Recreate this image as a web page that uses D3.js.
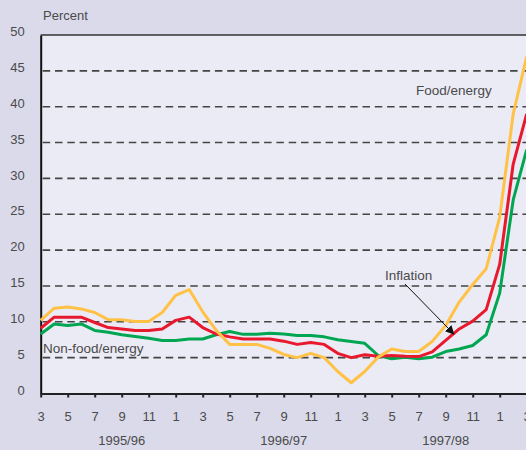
<!DOCTYPE html>
<html>

<head>
  <meta charset="utf-8">
  <title>inflation-chart</title>
  <style>
    * {
      padding: 0;
      margin: 0;
    }

    html,
    body {
      width: 526px;
      height: 450px;
      overflow: hidden;
      background: #dadaea;
    }

    text {
      font-family: "Liberation Sans", Arial, sans-serif;
      fill: #4a4a4a;
    }
  </style>
</head>

<body>
  <svg id="svg"></svg>
  <script src="https://cdnjs.cloudflare.com/ajax/libs/d3/7.8.5/d3.min.js"></script>
  <script>
    // monthly observations, March 1995 .. March 1998
    const monthNumbers = [3, 4, 5, 6, 7, 8, 9, 10, 11, 12, 1, 2,
      3, 4, 5, 6, 7, 8, 9, 10, 11, 12, 1, 2,
      3, 4, 5, 6, 7, 8, 9, 10, 11, 12, 1, 2, 3];
    const foodEnergy = [10.2, 11.9, 12.05, 11.8, 11.3, 10.3, 10.3, 10.05, 10.05, 11.3, 13.7, 14.5,
      11.4, 8.8, 6.85, 6.85, 6.85, 6.3, 5.45, 5.0, 5.6, 5.0, 3.07, 1.5,
      3.07, 5.07, 6.2, 5.85, 5.85, 7.26, 9.5, 12.75, 15.2, 17.4, 24.6, 39, 47];
    const inflation = [9.1, 10.65, 10.65, 10.65, 9.9, 9.2, 9.0, 8.8, 8.8, 9.0, 10.2, 10.65,
      9.2, 8.3, 7.9, 7.6, 7.6, 7.6, 7.3, 6.85, 7.1, 6.85, 5.6, 5.0,
      5.4, 5.2, 5.3, 5.2, 5.15, 5.8, 7.4, 9.0, 10.1, 11.7, 18, 32, 39];
    const nonFoodEnergy = [8.3, 9.7, 9.5, 9.7, 8.8, 8.55, 8.2, 7.95, 7.7, 7.4, 7.4, 7.6,
      7.6, 8.2, 8.65, 8.25, 8.25, 8.4, 8.3, 8.1, 8.1, 7.9, 7.5, 7.26,
      7.0, 5.3, 4.85, 5.07, 4.85, 5.07, 5.85, 6.2, 6.7, 8.2, 14, 27, 34];
    const yTicks = [0, 5, 10, 15, 20, 25, 30, 35, 40, 45, 50];
    const fiscalYears = ['1995/96', '1996/97', '1997/98'];
    const fiscalYearCentre = [6, 18, 30];

    const dimension = {
      width: 526,
      height: 450,
      margin: { top: 35, left: 40.7, bottom: 56.5 }
    };

    const svg = d3.select('#svg').attr('width', dimension.width).attr('height', dimension.height);

    const xScale = d3.scaleLinear().domain([0, monthNumbers.length - 1])
      .range([dimension.margin.left, dimension.margin.left + 13.5 * (monthNumbers.length - 1)]);
    const yScale = d3.scaleLinear().domain([0, 50])
      .range([dimension.height - dimension.margin.bottom, dimension.margin.top]);

    // plot panel
    svg.append('rect')
      .attr('x', xScale(0))
      .attr('y', yScale(50))
      .attr('width', dimension.width - xScale(0))
      .attr('height', yScale(0) - yScale(50))
      .style('fill', '#ebebf5');

    // dashed grid
    svg.append('g')
      .selectAll('line')
      .data(yTicks.filter(d => d > 0 && d < 50))
      .enter()
      .append('line')
      .attr('x1', xScale(0) + 2)
      .attr('x2', dimension.width)
      .attr('y1', d => yScale(d))
      .attr('y2', d => yScale(d))
      .style('stroke', '#444')
      .style('stroke-width', 1.6)
      .style('stroke-dasharray', '7.5,4.8');

    svg.append('line')
      .attr('x1', xScale(0)).attr('x2', dimension.width)
      .attr('y1', yScale(50)).attr('y2', yScale(50))
      .style('stroke', '#333').style('stroke-width', 1.6);

    // y axis
    const yAxis = d3.axisLeft(yScale).tickValues(yTicks).tickSize(0).tickPadding(16);
    const yG = svg.append('g')
      .attr('transform', `translate(${xScale(0)}, 0)`)
      .call(yAxis);
    yG.select('.domain').style('stroke', '#111').style('stroke-width', 2);
    yG.selectAll('text').attr('dy', '0.05em').style('font-size', '13px').style('fill', '#4a4a4a');

    // x axis
    const xAxis = d3.axisBottom(xScale)
      .tickValues(d3.range(0, monthNumbers.length, 2))
      .tickFormat(i => monthNumbers[i])
      .tickSizeInner(4)
      .tickSizeOuter(0)
      .tickPadding(14);
    const xG = svg.append('g')
      .attr('transform', `translate(0, ${yScale(0)})`)
      .call(xAxis);
    xG.select('.domain').style('stroke', '#222').style('stroke-width', 2);
    xG.selectAll('.tick line').style('stroke', '#222').style('stroke-width', 2);
    xG.selectAll('text').style('font-size', '13px').style('fill', '#4a4a4a');

    svg.append('g')
      .selectAll('text')
      .data(fiscalYears)
      .enter()
      .append('text')
      .attr('x', (d, i) => xScale(fiscalYearCentre[i]))
      .attr('y', 445)
      .attr('text-anchor', 'middle')
      .style('font-size', '13px')
      .text(d => d);

    // series
    const line = d3.line().x((d, i) => xScale(i)).y(d => yScale(d));
    const series = [
      { values: nonFoodEnergy, color: '#00a651' },
      { values: inflation, color: '#e8192d' },
      { values: foodEnergy, color: '#ffc247' }
    ];
    svg.append('g')
      .selectAll('path')
      .data(series)
      .enter()
      .append('path')
      .attr('d', d => line(d.values))
      .style('fill', 'none')
      .style('stroke', d => d.color)
      .style('stroke-width', 3)
      .style('stroke-linejoin', 'round');

    // labels
    svg.append('text').attr('x', 43).attr('y', 20).style('font-size', '13px').text('Percent');
    svg.append('text').attr('x', 416).attr('y', 95).style('font-size', '13.5px').text('Food/energy');
    svg.append('text').attr('x', 43).attr('y', 353).style('font-size', '13.5px').text('Non-food/energy');
    svg.append('text').attr('x', 385).attr('y', 280).style('font-size', '13.5px').text('Inflation');

    svg.append('defs').append('marker')
      .attr('id', 'arrow')
      .attr('viewBox', '0 0 10 10')
      .attr('refX', 9).attr('refY', 5)
      .attr('markerWidth', 9).attr('markerHeight', 9)
      .attr('markerUnits', 'userSpaceOnUse')
      .attr('orient', 'auto')
      .append('path')
      .attr('d', 'M0,0 L10,5 L0,10 z')
      .style('fill', '#111');

    svg.append('line')
      .attr('x1', 405).attr('y1', 284)
      .attr('x2', xScale(30.6)).attr('y2', yScale(8.3))
      .style('stroke', '#111')
      .style('stroke-width', 1)
      .attr('marker-end', 'url(#arrow)');
  </script>
</body>

</html>
